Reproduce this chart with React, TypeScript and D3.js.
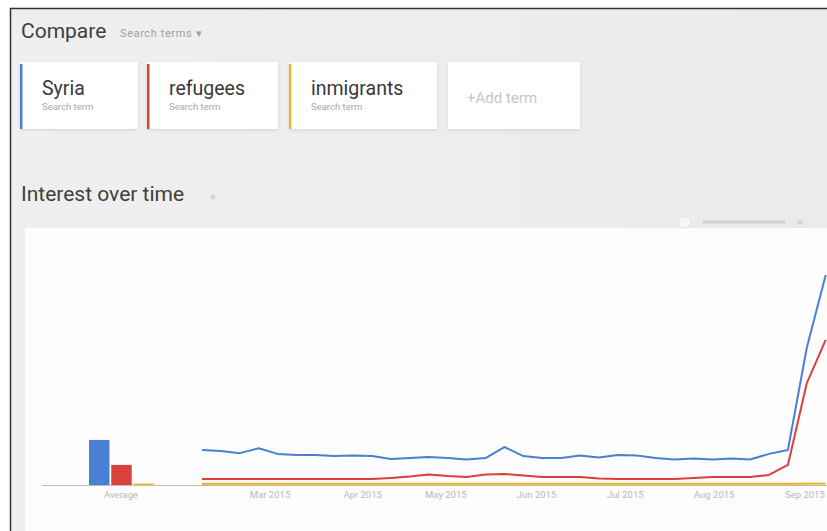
import * as d3 from 'd3';

// search terms and their colours
const terms = ['Syria', 'refugees', 'inmigrants'];
const termColors = ['#4a7fd4', '#d9413a', '#e8bb2e'];

// average bars (left of the timeline)
const averages = [18.4, 8.2, 0.6];

// weekly interest values (right side is cropped)
const syria = [
  14.3, 13.9, 13.0, 15.0, 12.7, 12.2, 12.2, 11.8, 12.0, 11.8, 10.6, 11.0,
  11.4, 11.0, 10.4, 11.0, 15.5, 11.8, 11.0, 11.0, 12.0, 11.2, 12.2, 12.0,
  11.0, 10.4, 10.8, 10.4, 10.8, 10.4, 12.7, 14.3, 56.0, 85.7,
];
const refugees = [
  2.4, 2.4, 2.4, 2.4, 2.4, 2.4, 2.4, 2.4, 2.4, 2.4, 2.9, 3.5, 4.3, 3.7, 3.3,
  4.3, 4.5, 3.9, 3.3, 3.3, 3.3, 2.7, 2.4, 2.4, 2.4, 2.4, 2.9, 3.3, 3.3, 3.3,
  4.1, 8.2, 41.6, 59.2,
];
const inmigrants = [
  0.5, 0.5, 0.5, 0.5, 0.5, 0.5, 0.5, 0.5, 0.5, 0.5, 0.5, 0.5, 0.5, 0.5, 0.5,
  0.5, 0.5, 0.5, 0.5, 0.5, 0.5, 0.5, 0.5, 0.5, 0.5, 0.5, 0.5, 0.5, 0.5, 0.5,
  0.5, 0.5, 0.6, 0.6,
];
const series = [syria, refugees, inmigrants];

// month labels and where they fall, in week units
const tickLabels = ['Mar 2015', 'Apr 2015', 'May 2015', 'Jun 2015', 'Jul 2015', 'Aug 2015', 'Sep 2015'];
const tickWeeks = [3.6, 8.5, 12.9, 17.7, 22.4, 27.1, 31.9];

const W = 827;
const H = 531;
const FONT = 'Roboto, "Noto Sans", Arial, sans-serif';

function Card({ x, w, label, sub, color }: { x: number; w: number; label: string; sub?: string; color?: string }) {
  return (
    <g>
      <rect x={x} y={62} width={w} height={67} fill='#fff' filter='url(#cardShadow)' />
      {color && <rect x={x} y={64} width={2.5} height={65} fill={color} />}
      {sub ? (
        <>
          <text x={x + 22} y={95} fontSize={19.5} fill='#383838'>
            {label}
          </text>
          <text x={x + 22} y={110} fontSize={9.5} fill='#a8a8a8'>
            {sub}
          </text>
        </>
      ) : (
        <text x={x + 19} y={103} fontSize={15} fill='#c6c6c6'>
          {label}
        </text>
      )}
    </g>
  );
}

export default function App() {
  const y = d3.scaleLinear().domain([0, 100]).range([485, 240]);
  const x = d3
    .scaleLinear()
    .domain([0, syria.length - 1])
    .range([202, 202 + 18.9 * (syria.length - 1)]);
  const band = d3.scaleBand<string>().domain(terms).range([89, 154]).paddingInner(0.08);

  const line = d3
    .line<number>()
    .x((_, i) => x(i))
    .y((d) => y(d))
    .curve(d3.curveLinear);

  const cardX = [20, 147, 289];
  const cardW = [118, 131, 148];

  return (
    <svg
      width={W}
      height={H}
      viewBox={`0 0 ${W} ${H}`}
      style={{ position: 'absolute', left: 0, top: 0, fontFamily: FONT }}
    >
      <defs>
        <filter id='cardShadow' x='-10%' y='-10%' width='120%' height='130%'>
          <feDropShadow dx={0} dy={1} stdDeviation={1.5} floodColor='#000' floodOpacity={0.12} />
        </filter>
        <linearGradient id='topBg' x1='0' x2='1' y1='0' y2='0'>
          <stop offset='0' stopColor='#efefef' />
          <stop offset='1' stopColor='#ebebeb' />
        </linearGradient>
      </defs>

      {/* page + frame */}
      <rect x={0} y={0} width={W} height={H} fill='#fff' />
      <rect x={10} y={8} width={W - 10} height={H - 8} fill='url(#topBg)' />
      <line x1={10} x2={W} y1={8.5} y2={8.5} stroke='#333' strokeWidth={1.5} />
      <line x1={10.5} x2={10.5} y1={8} y2={H} stroke='#333' strokeWidth={1.5} />

      {/* header */}
      <text x={21} y={38} fontSize={21} fill='#404040'>
        Compare
      </text>
      <text x={120} y={37} fontSize={11} fill='#a0a0a0' letterSpacing={0.6}>
        Search terms ▾
      </text>

      {terms.map((t, i) => (
        <Card key={t} x={cardX[i]} w={cardW[i]} label={t} sub='Search term' color={termColors[i]} />
      ))}
      <Card x={448} w={132} label='+Add term' />

      <text x={21} y={201} fontSize={21} fill='#404040'>
        Interest over time
      </text>
      <circle cx={213} cy={197} r={2.5} fill='#d4d4d4' />

      {/* chart panel */}
      <rect x={25} y={228} width={W - 25} height={H - 228} fill='#fdfdfd' />

      {/* zoom slider */}
      <circle cx={685} cy={222} r={6} fill='#f7f7f7' stroke='#e2e2e2' />
      <line x1={703} x2={785} y1={222} y2={222} stroke='#cfcfcf' strokeWidth={3} />
      <circle cx={800} cy={222} r={3} fill='#d8d8d8' />

      {/* baseline */}
      <line x1={42} x2={W} y1={y(0) + 0.5} y2={y(0) + 0.5} stroke='#bdbdbd' strokeWidth={1} />

      {/* averages */}
      {terms.map((t, i) => (
        <rect
          key={t}
          x={band(t)}
          y={y(averages[i])}
          width={band.bandwidth()}
          height={y(0) - y(averages[i])}
          fill={termColors[i]}
        />
      ))}
      <text x={121} y={498} fontSize={9.5} fill='#b8b8b8' textAnchor='middle'>
        Average
      </text>

      {/* lines, drawn back to front */}
      {[2, 1, 0].map((i) => (
        <path
          key={terms[i]}
          d={line(series[i]) ?? ''}
          fill='none'
          stroke={termColors[i]}
          strokeWidth={i === 2 ? 2.2 : 2}
          strokeLinejoin='round'
        />
      ))}

      {/* month ticks */}
      {tickLabels.map((l, i) => (
        <text key={l} x={x(tickWeeks[i])} y={498} fontSize={9.5} fill='#b8b8b8' textAnchor='middle'>
          {l}
        </text>
      ))}
    </svg>
  );
}
